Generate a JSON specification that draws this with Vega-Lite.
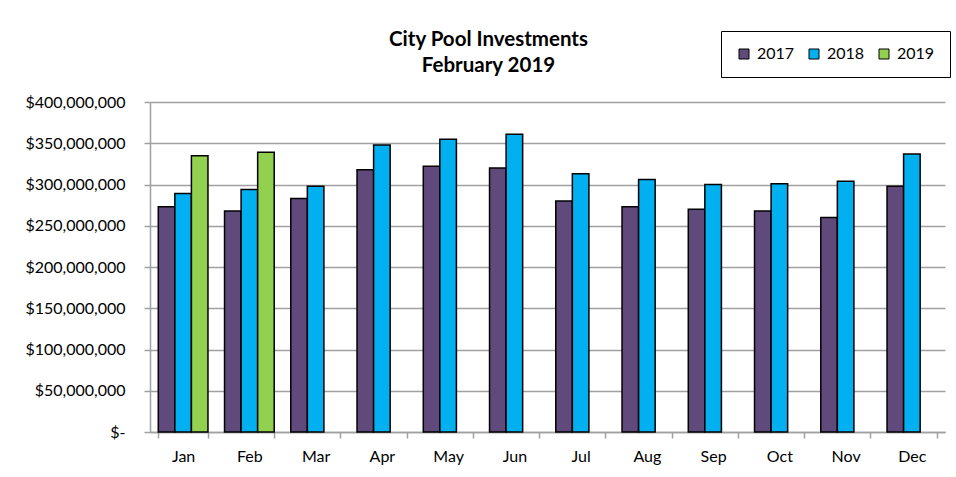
{
  "$schema": "https://vega.github.io/schema/vega-lite/v6.json",
  "width": 795,
  "height": 330,
  "autosize": {"type": "none"},
  "padding": {"left": 150, "top": 102, "right": 11, "bottom": 45},
  "background": "white",
  "title": {
    "text": ["City Pool Investments", "February 2019"],
    "font": "Lato",
    "fontSize": 20.5,
    "fontWeight": "bold",
    "color": "black",
    "anchor": "middle",
    "dx": -59,
    "offset": -46,
    "lineHeight": 26
  },
  "data": {
    "values": [
      {"month": "Jan", "year": "2017", "value": 273000000},
      {"month": "Jan", "year": "2018", "value": 289000000},
      {"month": "Jan", "year": "2019", "value": 335000000},
      {"month": "Feb", "year": "2017", "value": 268000000},
      {"month": "Feb", "year": "2018", "value": 294000000},
      {"month": "Feb", "year": "2019", "value": 339000000},
      {"month": "Mar", "year": "2017", "value": 283000000},
      {"month": "Mar", "year": "2018", "value": 298000000},
      {"month": "Apr", "year": "2017", "value": 318000000},
      {"month": "Apr", "year": "2018", "value": 348000000},
      {"month": "May", "year": "2017", "value": 322000000},
      {"month": "May", "year": "2018", "value": 355000000},
      {"month": "Jun", "year": "2017", "value": 320000000},
      {"month": "Jun", "year": "2018", "value": 361000000},
      {"month": "Jul", "year": "2017", "value": 280000000},
      {"month": "Jul", "year": "2018", "value": 313000000},
      {"month": "Aug", "year": "2017", "value": 273000000},
      {"month": "Aug", "year": "2018", "value": 306000000},
      {"month": "Sep", "year": "2017", "value": 270000000},
      {"month": "Sep", "year": "2018", "value": 300000000},
      {"month": "Oct", "year": "2017", "value": 268000000},
      {"month": "Oct", "year": "2018", "value": 301000000},
      {"month": "Nov", "year": "2017", "value": 260000000},
      {"month": "Nov", "year": "2018", "value": 304000000},
      {"month": "Dec", "year": "2017", "value": 298000000},
      {"month": "Dec", "year": "2018", "value": 337000000}
    ]
  },
  "mark": {"type": "bar", "stroke": "black", "strokeWidth": 1.5},
  "encoding": {
    "x": {
      "field": "month",
      "type": "nominal",
      "sort": ["Jan", "Feb", "Mar", "Apr", "May", "Jun", "Jul", "Aug", "Sep", "Oct", "Nov", "Dec"],
      "scale": {"paddingInner": 0.25, "paddingOuter": 0.125},
      "axis": {
        "title": null,
        "labelAngle": 0,
        "labelFont": "Lato",
        "labelFontSize": 16,
        "labelColor": "black",
        "labelPadding": 10,
        "tickBand": "extent",
        "tickSize": 6,
        "tickColor": "#a0a0a0",
        "domainColor": "#a0a0a0",
        "domainWidth": 1.5,
        "tickWidth": 1.5
      }
    },
    "xOffset": {
      "field": "year",
      "type": "nominal",
      "sort": ["2017", "2018", "2019"],
      "scale": {"domain": ["2017", "2018", "2019"], "paddingInner": 0, "paddingOuter": 0}
    },
    "y": {
      "field": "value",
      "type": "quantitative",
      "scale": {"domain": [0, 400000000], "nice": false},
      "axis": {
        "title": null,
        "values": [0, 50000000, 100000000, 150000000, 200000000, 250000000, 300000000, 350000000, 400000000],
        "labelExpr": "datum.value == 0 ? '$-' : '$' + format(datum.value, ',')",
        "labelFont": "Lato",
        "labelFontSize": 16,
        "labelColor": "black",
        "labelPadding": 19,
        "tickSize": 6,
        "tickColor": "#a0a0a0",
        "tickWidth": 1.5,
        "domainColor": "#a0a0a0",
        "domainWidth": 1.5,
        "grid": true,
        "gridColor": "#a0a0a0",
        "gridWidth": 1.5
      }
    },
    "color": {
      "field": "year",
      "type": "nominal",
      "scale": {"domain": ["2017", "2018", "2019"], "range": ["#604A7B", "#00B0F0", "#92D050"]},
      "legend": {
        "title": null,
        "orient": "none",
        "legendX": 571,
        "legendY": -71,
        "direction": "horizontal",
        "strokeColor": "black",
        "fillColor": "white",
        "padding": 15,
        "symbolType": "square",
        "symbolSize": 100,
        "symbolStrokeColor": "black",
        "symbolStrokeWidth": 1,
        "labelFont": "Lato",
        "labelFontSize": 16,
        "labelColor": "black",
        "columnPadding": 11,
        "labelOffset": 5
      }
    }
  },
  "config": {
    "view": {"stroke": null}
  }
}
